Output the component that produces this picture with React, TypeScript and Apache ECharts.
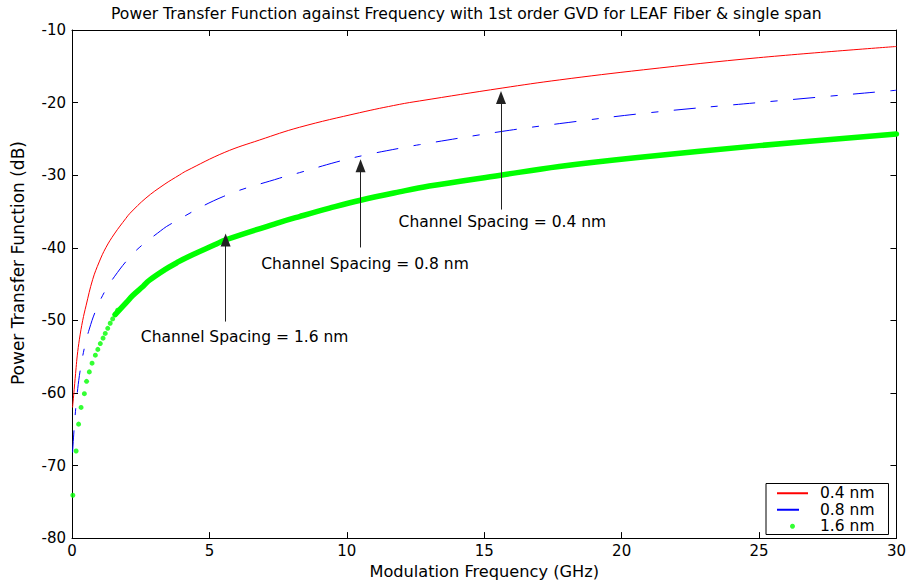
import React, { useEffect, useRef } from "react";
import * as echarts from "echarts";

// ---- Data ----
const xTickValues = [0, 5, 10, 15, 20, 25, 30];
const yTickValues = [-80, -70, -60, -50, -40, -30, -20, -10];

// Channel spacing 0.4 nm (red solid)
const redFreq = [0.02, 0.08, 0.15, 0.19, 0.27, 0.39, 0.51, 0.75, 0.99, 1.23, 1.54, 1.96, 2.11, 2.69, 3.35, 3.92, 4.14, 5.56, 6.83, 8.28, 10.46, 11.91, 12.64, 15.65, 17.73, 20.8, 24.97, 30];
const redPower = [-62.0, -59.5, -56.5, -54.9, -52.6, -50.0, -48.0, -44.4, -41.95, -40.0, -38.1, -35.95, -35.25, -33.15, -31.3, -29.95, -29.45, -26.85, -25.15, -23.4, -21.4, -20.25, -19.78, -18.0, -16.88, -15.48, -13.82, -12.27];

// Channel spacing 0.8 nm (blue dash-dot)
const blueFreq = [0.02, 0.08, 0.15, 0.27, 0.45, 0.63, 0.87, 1.21, 1.54, 2.02, 2.47, 3.11, 3.56, 5.5, 7.56, 8.28, 9.61, 10.58, 11.91, 12.64, 15.65, 17.73, 21.0, 24.97, 30];
const bluePower = [-68.2, -64.8, -61.6, -57.6, -53.8, -51.2, -48.6, -45.9, -44.0, -41.65, -39.9, -38.0, -36.8, -32.95, -30.4, -29.65, -28.2, -27.3, -26.3, -25.8, -23.97, -22.9, -21.4, -20.0, -18.3];

// Channel spacing 1.6 nm (green dots) – low frequency, individually visible dots
const greenDotFreq = [0.03, 0.15, 0.24, 0.33, 0.45, 0.53, 0.63, 0.73, 0.85, 0.94, 1.03, 1.13, 1.21, 1.30, 1.39, 1.48, 1.57, 1.66];
const greenDotPower = [-74.1, -68.0, -64.3, -62.0, -60.1, -58.4, -57.1, -55.9, -54.8, -54.0, -53.2, -52.45, -51.8, -51.1, -50.4, -49.8, -49.2, -48.6];
// Channel spacing 1.6 nm – higher frequency, dots merge into a thick trace
const greenTraceFreq = [1.57, 1.99, 2.2, 2.59, 2.81, 3.41, 3.8, 4.14, 5.19, 5.6, 7.56, 8.28, 9.37, 10.5, 11.91, 13.0, 15.6, 17.73, 20.5, 25.0, 30];
const greenTracePower = [-49.2, -47.5, -46.6, -45.3, -44.5, -42.95, -42.1, -41.4, -39.6, -38.9, -36.5, -35.7, -34.55, -33.45, -32.3, -31.5, -30.0, -28.8, -27.6, -25.93, -24.34];

const seriesNames = ["0.4 nm", "0.8 nm", "1.6 nm"];

// Annotations: label text, label centre (data coords) and arrow (data coords;
// arrowTo is the centre of the arrow head)
const annotations = [
  { text: "Channel Spacing = 0.4 nm", labelAt: [15.66, -36.42], arrowX: 15.61, arrowFrom: -34.74, arrowTo: -19.29 },
  { text: "Channel Spacing = 0.8 nm", labelAt: [10.66, -42.21], arrowX: 10.5, arrowFrom: -39.96, arrowTo: -28.69 },
  { text: "Channel Spacing = 1.6 nm", labelAt: [6.28, -52.35], arrowX: 5.59, arrowFrom: -50.17, arrowTo: -38.94 },
];

const FONT = "DejaVu Sans";
const FS = 15;

const zip = (xs: number[], ys: number[]) => xs.map((x, i) => [x, ys[i]]);

export default function App() {
  const ref = useRef<HTMLDivElement>(null);
  useEffect(() => {
    if (!ref.current) return;
    const chart = echarts.init(ref.current, null, { renderer: "svg" });
    const axisCommon = {
      type: "value",
      axisLine: { show: true, onZero: false, lineStyle: { color: "#000", width: 1 } },
      axisTick: { show: true, inside: true, length: 6, lineStyle: { color: "#000", width: 1 } },
      splitLine: { show: false },
    };
    const hiddenSymbol = { color: "rgba(0,0,0,0)", borderWidth: 0, opacity: 0 };
    chart.setOption({
      animation: false,
      backgroundColor: "#fff",
      textStyle: { fontFamily: FONT },
      title: {
        text: "Power Transfer Function against Frequency with 1st order GVD for LEAF Fiber & single span",
        left: 111,
        top: 6,
        padding: 0,
        textStyle: { fontFamily: FONT, fontSize: 15.6, fontWeight: "normal", color: "#000" },
      },
      grid: { left: 72, right: 11, top: 30, bottom: 40, containLabel: false },
      xAxis: [
        {
          ...axisCommon,
          min: 0,
          max: 30,
          interval: 5,
          position: "bottom",
          axisLabel: {
            color: "#000",
            fontSize: FS,
            fontFamily: FONT,
            margin: 5,
            customValues: xTickValues,
          },
          name: "Modulation Frequency (GHz)",
          nameLocation: "middle",
          nameGap: 23,
          nameTextStyle: { color: "#000", fontSize: 16.2, fontFamily: FONT },
        },
        {
          ...axisCommon,
          min: 0,
          max: 30,
          interval: 5,
          position: "top",
          axisLabel: { show: false },
        },
      ],
      yAxis: [
        {
          ...axisCommon,
          min: -80,
          max: -10,
          interval: 10,
          position: "left",
          axisLabel: {
            color: "#000",
            fontSize: FS,
            fontFamily: FONT,
            margin: 6,
            customValues: yTickValues,
          },
          name: "Power Transfer Function (dB)",
          nameLocation: "middle",
          nameGap: 46,
          nameRotate: 90,
          nameTextStyle: { color: "#000", fontSize: 17, fontFamily: FONT, padding: [0, 0, 0, 42] },
        },
        {
          ...axisCommon,
          min: -80,
          max: -10,
          interval: 10,
          position: "right",
          axisLabel: { show: false },
        },
      ],
      legend: {
        data: [
          { name: seriesNames[0], itemStyle: hiddenSymbol },
          { name: seriesNames[1], itemStyle: hiddenSymbol },
          { name: seriesNames[2] },
        ],
        orient: "vertical",
        left: 766,
        top: 483.5,
        itemWidth: 31,
        itemHeight: 5,
        itemGap: 0,
        padding: [1.5, 14, 0, 10],
        borderColor: "#000",
        borderWidth: 1,
        borderRadius: 0,
        backgroundColor: "#fff",
        selectedMode: false,
        textStyle: { color: "#000", fontSize: 15.5, fontFamily: FONT, lineHeight: 16.5, padding: [0, 0, 0, 7] },
      },
      series: [
        {
          name: seriesNames[0],
          type: "line",
          data: zip(redFreq, redPower),
          xAxisIndex: 0,
          yAxisIndex: 0,
          symbol: "none",
          smooth: 0.4,
          lineStyle: { color: "#ff0000", width: 1 },
          itemStyle: { color: "#ff0000" },
          z: 3,
          markLine: {
            silent: true,
            symbol: ["none", "triangle"],
            symbolSize: [10, 13],
            label: { show: false },
            lineStyle: { color: "#222", width: 1, type: "solid" },
            data: annotations.map((a) => [
              { coord: [a.arrowX, a.arrowFrom] },
              { coord: [a.arrowX, a.arrowTo] },
            ]),
          },
          markPoint: {
            silent: true,
            symbol: "circle",
            symbolSize: 1,
            itemStyle: { color: "rgba(0,0,0,0)" },
            label: { show: true, position: "inside", color: "#000", fontSize: 15.5, fontFamily: FONT },
            data: annotations.map((a) => ({
              coord: a.labelAt,
              value: 0,
              label: { formatter: a.text },
            })),
          },
        },
        {
          name: seriesNames[1],
          type: "line",
          data: zip(blueFreq, bluePower),
          symbol: "none",
          smooth: 0.4,
          lineStyle: { color: "#0000ff", width: 1, type: [22, 15.5, 7, 15.5] },
          itemStyle: { color: "#0000ff" },
          z: 3,
        },
        {
          name: seriesNames[2],
          type: "scatter",
          data: zip(greenDotFreq, greenDotPower),
          symbol: "circle",
          symbolSize: 5,
          itemStyle: { color: "#00ff00" },
          z: 2,
        },
        {
          name: seriesNames[2],
          type: "line",
          data: zip(greenTraceFreq, greenTracePower),
          symbol: "none",
          smooth: 0.4,
          lineStyle: { color: "#00ff00", width: 5.5, cap: "round" },
          itemStyle: { color: "#00ff00" },
          z: 2,
        },
      ],
    });
    return () => chart.dispose();
  }, []);
  return (
    <div
      ref={ref}
      style={{ position: "fixed", left: 0, top: 0, width: 909, height: 584, background: "#fff" }}
    />
  );
}
